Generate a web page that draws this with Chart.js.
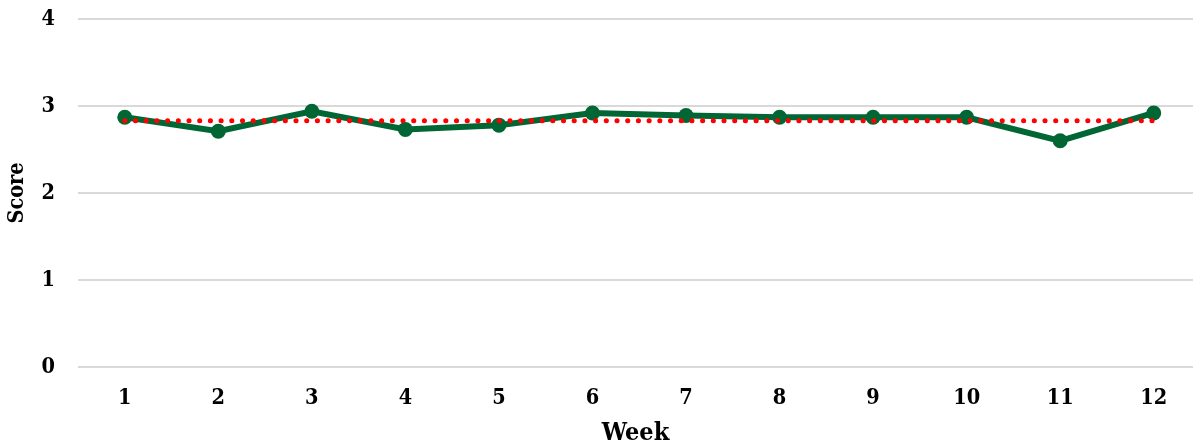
<!DOCTYPE html>
<html>
<head>
<meta charset="utf-8">
<script src="https://cdn.jsdelivr.net/npm/chart.js@4/dist/chart.umd.min.js"></script>
<style>
html,body{margin:0;padding:0;background:#fff;}
#wrap{width:1193px;height:448px;}
</style>
</head>
<body>
<div id="wrap"><canvas id="c" width="1193" height="448"></canvas></div>
<script>
const weeks = [1,2,3,4,5,6,7,8,9,10,11,12];
const scores = [2.87,2.71,2.94,2.73,2.78,2.92,2.89,2.87,2.87,2.87,2.60,2.92];
const average = [2.83,2.83,2.83,2.83,2.83,2.83,2.83,2.83,2.83,2.83,2.83,2.83];
const yTicks = [0,1,2,3,4];

const fontFam = "'DejaVu Serif Condensed', 'DejaVu Serif', serif";

new Chart(document.getElementById('c'), {
  type: 'line',
  data: {
    datasets: [
      {
        label: 'Average',
        data: weeks.map((w,i)=>({x:w,y:average[i]})),
        borderColor: '#FF0000',
        borderWidth: 5,
        borderDash: [0.1, 10.6],
        borderCapStyle: 'round',
        pointRadius: 0,
        fill: false,
        order: 0
      },
      {
        label: 'Score',
        data: weeks.map((w,i)=>({x:w,y:scores[i]})),
        borderColor: '#006633',
        backgroundColor: '#006633',
        borderWidth: 6,
        pointRadius: 7.5,
        pointBackgroundColor: '#006633',
        pointBorderWidth: 0,
        fill: false,
        order: 1
      }
    ]
  },
  options: {
    responsive: false,
    animation: false,
    layout: { autoPadding: false, padding: { top: 0, right: 0, bottom: 0, left: 0 } },
    plugins: { legend: { display: false }, tooltip: { enabled: false } },
    scales: {
      x: {
        type: 'linear',
        min: 0.5,
        max: 12.42,
        afterBuildTicks: (ax) => { ax.ticks = weeks.map(v => ({ value: v })); },
        afterFit: (ax) => { ax.height = 81; ax.paddingLeft = 0; ax.paddingRight = 0; },
        grid: { display: false, drawTicks: false },
        border: { display: false },
        ticks: {
          padding: 19,
          color: '#000',
          font: { family: fontFam, size: 21.5, weight: 'bold' },
          callback: (v) => String(v)
        },
        title: {
          display: true,
          text: 'Week',
          color: '#000',
          padding: { top: 0, bottom: 0 },
          font: { family: fontFam, size: 25, weight: 'bold' }
        }
      },
      y: {
        min: 0,
        max: 4,
        afterBuildTicks: (ax) => { ax.ticks = yTicks.map(v => ({ value: v })); },
        afterFit: (ax) => { ax.width = 78; ax.paddingTop = 19; ax.paddingBottom = 0; },
        grid: { color: '#d9d9d9', lineWidth: 2, drawTicks: false },
        border: { display: false },
        ticks: {
          padding: 23,
          color: '#000',
          font: { family: fontFam, size: 21.5, weight: 'bold' }
        },
        title: {
          display: true,
          text: 'Score',
          color: '#000',
          padding: { top: 5, bottom: 0 },
          font: { family: fontFam, size: 21.5, weight: 'bold' }
        }
      }
    }
  }
});
</script>
</body>
</html>
